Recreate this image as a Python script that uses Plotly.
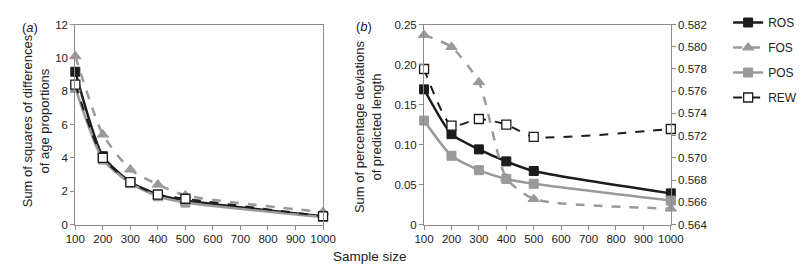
import plotly.graph_objects as go

sample_size = [100, 200, 300, 400, 500, 1000]

# Panel (a): sum of squares of differences of age proportions
a_ros = [9.17, 4.10, 2.55, 1.80, 1.45, 0.50]
a_fos = [10.10, 5.40, 3.30, 2.40, 1.75, 0.75]
a_pos = [8.20, 3.90, 2.48, 1.70, 1.32, 0.45]
a_rew = [8.40, 4.00, 2.55, 1.80, 1.55, 0.50]

# Panel (b): sum of percentage deviations of predicted length
b_ros = [0.169, 0.113, 0.094, 0.079, 0.067, 0.039]
b_fos = [0.237, 0.222, 0.178, 0.058, 0.032, 0.020]
b_pos = [0.130, 0.086, 0.068, 0.057, 0.051, 0.030]
# REW plotted against the secondary (right) axis
b_rew = [0.5780, 0.5729, 0.5735, 0.5730, 0.5719, 0.5726]

x_ticks = [100, 200, 300, 400, 500, 600, 700, 800, 900, 1000]
a_yticks = [0, 2, 4, 6, 8, 10, 12]
b_yticks = [0, 0.05, 0.10, 0.15, 0.20, 0.25]
b_yticklabels = ["0", "0.05", "0.10", "0.15", "0.20", "0.25"]
b_y2ticks = [0.564, 0.566, 0.568, 0.570, 0.572, 0.574, 0.576, 0.578, 0.580, 0.582]

BLACK = "#1c1c1c"
GRAY = "#9a9a9a"
FONT = "Liberation Sans, Arial, sans-serif"

styles = {
    "ROS": dict(line=dict(color=BLACK, width=2.5, dash="solid", shape="spline", smoothing=0.6),
                marker=dict(symbol="square", size=9, color=BLACK, line=dict(color=BLACK, width=1))),
    "FOS": dict(line=dict(color=GRAY, width=2.5, dash="dash", shape="spline", smoothing=0.6),
                marker=dict(symbol="triangle-up", size=10, color=GRAY, line=dict(color=GRAY, width=1))),
    "POS": dict(line=dict(color=GRAY, width=2.5, dash="solid", shape="spline", smoothing=0.6),
                marker=dict(symbol="square", size=9, color=GRAY, line=dict(color=GRAY, width=1))),
    "REW": dict(line=dict(color=BLACK, width=2, dash="dash", shape="spline", smoothing=0.6),
                marker=dict(symbol="square", size=9, color="white", line=dict(color=BLACK, width=1.3))),
}

fig = go.Figure()

for name, ys in [("ROS", a_ros), ("FOS", a_fos), ("POS", a_pos), ("REW", a_rew)]:
    fig.add_trace(go.Scatter(x=sample_size, y=ys, name=name, mode="lines+markers",
                             xaxis="x", yaxis="y", showlegend=False, cliponaxis=False,
                             **styles[name]))

for name, ys, ax in [("ROS", b_ros, "y2"), ("FOS", b_fos, "y2"), ("POS", b_pos, "y2"), ("REW", b_rew, "y3")]:
    fig.add_trace(go.Scatter(x=sample_size, y=ys, name=name, mode="lines+markers",
                             xaxis="x2", yaxis=ax, showlegend=True, legendgroup=name,
                             cliponaxis=False, **styles[name]))

W, H = 806, 266
def px(v):
    return v / W
def py(v):
    return 1 - v / H

ydom = [py(220), py(8)]
axis_common = dict(showline=True, linecolor="#8c8c8c", linewidth=1, ticks="outside",
                   ticklen=4, tickcolor="#8c8c8c", showgrid=False, zeroline=False,
                   tickfont=dict(family=FONT, size=11.5, color="#222"))

fig.update_layout(
    width=W, height=H, margin=dict(l=0, r=0, t=0, b=0),
    plot_bgcolor="white", paper_bgcolor="white",
    font=dict(family=FONT, color="#222"),
    xaxis=dict(domain=[px(59), px(314)], anchor="y", range=[100, 1000],
               tickvals=x_ticks, mirror=True, **axis_common),
    yaxis=dict(domain=ydom, anchor="x", range=[0, 12], tickvals=a_yticks, mirror=True,
               **axis_common),
    xaxis2=dict(domain=[px(418), px(672)], anchor="y2", range=[100, 1000],
                tickvals=x_ticks, mirror=True, **axis_common),
    yaxis2=dict(domain=ydom, anchor="x2", range=[0, 0.25], tickvals=b_yticks,
                ticktext=b_yticklabels, **axis_common),
    yaxis3=dict(overlaying="y2", anchor="x2", side="right", range=[0.564, 0.582],
                tickvals=b_y2ticks, tickformat=".3f", **axis_common),
    legend=dict(x=px(731), y=py(-10), xanchor="left", yanchor="top",
                font=dict(family=FONT, size=12, color="#222"),
                tracegroupgap=6, bgcolor="rgba(0,0,0,0)"),
)

annotations = [
    dict(text="(<i>a</i>)", x=px(2), y=py(1), xanchor="left", yanchor="top", font=dict(size=13)),
    dict(text="(<i>b</i>)", x=px(346), y=py(0), xanchor="left", yanchor="top", font=dict(size=13)),
    dict(text="Sum of squares of differences<br>of age proportions", x=px(18), y=py(110),
         textangle=-90, xanchor="center", yanchor="middle", font=dict(size=13)),
    dict(text="Sum of percentage deviations<br>of predicted length", x=px(361), y=py(117),
         textangle=-90, xanchor="center", yanchor="middle", font=dict(size=13)),
    dict(text="Sample size", x=px(362.5), y=py(254), xanchor="center", yanchor="middle",
         font=dict(size=13.5)),
]
for a in annotations:
    a.update(xref="paper", yref="paper", showarrow=False)
    a["font"].update(family=FONT, color="#222")
fig.update_layout(annotations=annotations)

fig.write_html("out.html")
